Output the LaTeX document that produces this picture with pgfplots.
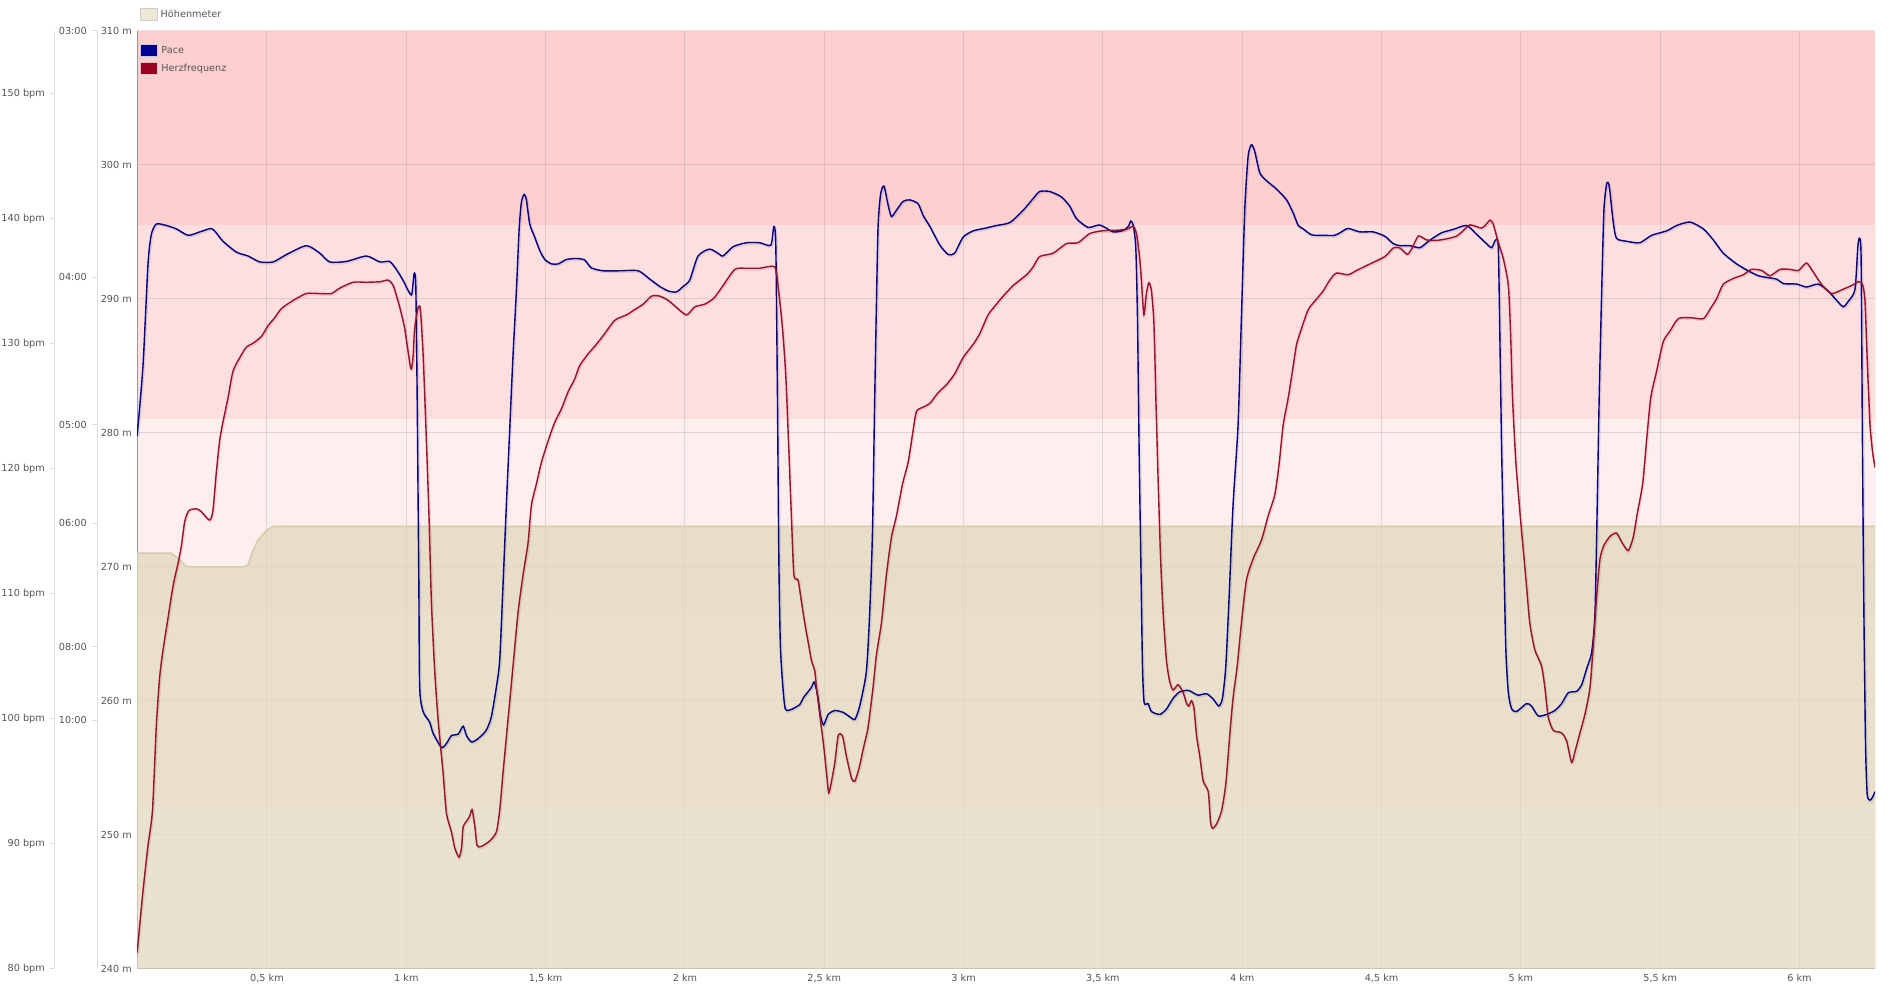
\documentclass[border=0pt]{standalone}
\usepackage{pgfplots}
\usepackage{pgfplotstable}
\pgfplotsset{compat=1.18}
\usepackage{fontspec}
\setmainfont{DejaVu Sans}
\definecolor{paceblue}{HTML}{00008B}
\definecolor{hrred}{HTML}{9E0F2C}
\definecolor{legpace}{HTML}{000090}
\definecolor{leghr}{HTML}{990020}
\definecolor{legelev}{HTML}{E6DDC4}
\definecolor{legbord}{HTML}{CCCCCC}
\definecolor{bandA}{HTML}{FDCFCF}
\definecolor{bandB}{HTML}{FDDFDF}
\definecolor{bandC}{HTML}{FEEEEE}
\definecolor{bandD}{HTML}{FFF6F6}
\definecolor{elev}{HTML}{E0D6B9}
\definecolor{elevedge}{HTML}{D6CAAC}
\definecolor{lbl}{HTML}{555555}
\definecolor{axgray}{HTML}{DDDDDD}
\definecolor{framegray}{HTML}{999999}
\newcommand{\lblfont}{\fontsize{9.7}{11.6}\selectfont}

\pgfplotstableread{
x y
0.034 11.78
0.055 13.20
0.073 15.27
0.085 15.87
0.103 16.08
0.139 16.05
0.175 15.98
0.217 15.85
0.259 15.92
0.300 15.99
0.318 15.90
0.342 15.73
0.390 15.51
0.432 15.43
0.474 15.31
0.522 15.31
0.570 15.46
0.641 15.64
0.689 15.49
0.725 15.31
0.785 15.32
0.857 15.43
0.905 15.31
0.940 15.32
0.964 15.16
0.988 14.94
1.018 14.64
1.028 15.07
1.034 14.83
1.039 12.55
1.045 8.74
1.048 6.67
1.060 6.18
1.084 5.96
1.096 5.74
1.126 5.45
1.144 5.53
1.162 5.69
1.186 5.72
1.204 5.88
1.216 5.69
1.234 5.56
1.258 5.63
1.287 5.80
1.305 6.07
1.323 6.67
1.335 7.21
1.347 8.74
1.359 10.37
1.371 11.89
1.383 13.42
1.395 14.72
1.405 15.98
1.413 16.52
1.423 16.68
1.431 16.57
1.443 16.08
1.461 15.81
1.479 15.54
1.497 15.36
1.521 15.27
1.545 15.27
1.575 15.36
1.610 15.38
1.640 15.35
1.664 15.19
1.706 15.13
1.766 15.13
1.832 15.13
1.874 14.96
1.910 14.81
1.940 14.72
1.969 14.70
1.993 14.81
2.017 14.94
2.047 15.43
2.089 15.57
2.125 15.46
2.137 15.43
2.173 15.62
2.221 15.70
2.268 15.70
2.308 15.65
2.319 16.03
2.326 15.65
2.332 12.55
2.337 9.28
2.343 7.43
2.358 6.29
2.376 6.21
2.412 6.32
2.424 6.45
2.454 6.67
2.464 6.78
2.476 6.51
2.487 6.07
2.498 5.91
2.514 6.12
2.538 6.20
2.568 6.16
2.592 6.07
2.610 6.02
2.627 6.29
2.651 6.99
2.663 8.19
2.673 9.83
2.681 12.55
2.687 14.40
2.693 16.03
2.702 16.68
2.714 16.85
2.729 16.47
2.741 16.23
2.759 16.36
2.783 16.54
2.807 16.57
2.837 16.49
2.855 16.25
2.879 16.03
2.915 15.65
2.945 15.46
2.968 15.49
2.998 15.81
3.034 15.94
3.082 16.00
3.118 16.05
3.166 16.11
3.214 16.36
3.250 16.60
3.273 16.74
3.309 16.74
3.351 16.63
3.381 16.44
3.405 16.19
3.447 16.01
3.489 16.06
3.537 15.92
3.573 15.95
3.591 16.03
3.600 16.14
3.609 16.05
3.618 15.60
3.624 14.18
3.630 11.46
3.636 9.28
3.642 7.10
3.648 6.36
3.662 6.34
3.674 6.18
3.704 6.12
3.728 6.23
3.752 6.45
3.776 6.58
3.806 6.61
3.824 6.56
3.842 6.51
3.872 6.54
3.896 6.43
3.916 6.29
3.929 6.45
3.941 7.10
3.953 8.52
3.967 10.37
3.985 12.00
3.997 14.18
4.009 16.36
4.021 17.45
4.033 17.69
4.045 17.55
4.063 17.12
4.087 16.96
4.123 16.79
4.159 16.57
4.183 16.30
4.201 16.05
4.219 15.98
4.249 15.86
4.291 15.85
4.332 15.85
4.356 15.92
4.380 15.99
4.422 15.92
4.470 15.92
4.512 15.83
4.542 15.68
4.566 15.64
4.602 15.64
4.638 15.60
4.673 15.75
4.715 15.90
4.757 15.97
4.805 16.05
4.841 15.87
4.877 15.68
4.895 15.60
4.910 15.76
4.919 15.60
4.925 13.64
4.931 11.46
4.939 9.28
4.946 7.43
4.955 6.56
4.967 6.23
4.985 6.18
5.020 6.34
5.038 6.29
5.062 6.09
5.092 6.12
5.122 6.20
5.146 6.34
5.170 6.56
5.200 6.59
5.218 6.72
5.236 7.05
5.254 7.38
5.266 8.19
5.274 10.37
5.281 12.55
5.290 14.72
5.298 16.36
5.308 16.90
5.317 16.85
5.331 16.14
5.343 15.79
5.379 15.73
5.427 15.70
5.469 15.85
5.523 15.94
5.559 16.05
5.607 16.12
5.655 15.98
5.690 15.76
5.726 15.49
5.774 15.27
5.822 15.11
5.858 15.02
5.918 14.96
5.942 14.87
5.990 14.86
6.025 14.80
6.067 14.86
6.103 14.72
6.133 14.53
6.157 14.40
6.175 14.51
6.199 14.75
6.209 15.60
6.215 15.79
6.221 15.38
6.226 11.46
6.231 8.19
6.237 5.47
6.243 4.49
6.253 4.38
6.262 4.44
6.271 4.55
}\pacedata

\pgfplotstableread{
x y
0.034 81.31
0.055 86.24
0.073 89.88
0.089 92.67
0.103 99.52
0.115 103.38
0.127 105.52
0.145 108.09
0.163 110.66
0.181 112.46
0.193 113.87
0.205 115.80
0.220 116.66
0.247 116.79
0.264 116.57
0.294 115.89
0.306 116.66
0.318 119.66
0.330 122.23
0.342 123.73
0.360 125.66
0.378 127.80
0.402 128.87
0.426 129.73
0.450 130.03
0.480 130.58
0.504 131.44
0.528 132.08
0.552 132.81
0.594 133.46
0.641 134.01
0.689 134.01
0.731 134.01
0.761 134.44
0.809 134.91
0.857 134.91
0.905 134.95
0.935 135.08
0.953 134.65
0.976 132.94
0.994 131.23
1.016 128.01
1.024 128.87
1.030 131.23
1.042 132.81
1.050 132.81
1.060 129.30
1.070 123.50
1.081 116.50
1.090 109.38
1.102 103.81
1.114 99.95
1.132 95.67
1.144 92.45
1.162 90.95
1.174 89.67
1.189 88.94
1.198 89.67
1.204 91.38
1.216 91.81
1.228 92.24
1.236 92.75
1.246 91.38
1.254 89.88
1.269 89.80
1.299 90.23
1.323 90.95
1.335 92.67
1.347 95.67
1.365 99.95
1.383 104.24
1.401 108.52
1.419 111.52
1.437 114.09
1.449 117.09
1.467 118.80
1.485 120.52
1.509 122.23
1.533 123.73
1.557 124.80
1.581 126.17
1.604 127.16
1.622 128.23
1.652 129.17
1.682 129.94
1.712 130.80
1.748 131.87
1.790 132.30
1.820 132.73
1.850 133.16
1.880 133.80
1.910 133.80
1.940 133.46
1.963 133.03
2.005 132.30
2.035 132.94
2.071 133.16
2.101 133.58
2.113 133.90
2.137 134.65
2.179 135.94
2.221 136.03
2.268 136.03
2.322 136.15
2.334 134.65
2.350 131.23
2.362 127.37
2.373 121.37
2.382 116.23
2.391 111.52
2.406 111.09
2.418 109.38
2.430 107.66
2.442 106.16
2.454 104.66
2.466 103.81
2.474 102.09
2.486 99.95
2.498 97.81
2.508 95.67
2.516 94.08
2.526 95.02
2.538 96.52
2.550 98.66
2.565 98.66
2.580 96.95
2.598 95.24
2.610 95.02
2.625 96.09
2.642 97.81
2.657 99.31
2.675 102.52
2.687 105.09
2.705 107.66
2.723 111.52
2.741 114.52
2.759 116.23
2.781 118.80
2.801 120.52
2.819 123.09
2.831 124.59
2.855 124.93
2.879 125.23
2.909 126.09
2.939 126.73
2.968 127.59
2.998 128.87
3.034 129.94
3.058 130.80
3.088 132.30
3.118 133.16
3.142 133.80
3.178 134.65
3.226 135.51
3.250 136.15
3.273 136.97
3.321 137.23
3.369 138.00
3.411 138.08
3.453 138.81
3.501 139.03
3.549 139.07
3.585 139.15
3.609 139.37
3.621 138.73
3.632 136.80
3.638 135.08
3.647 132.30
3.656 134.01
3.665 134.87
3.674 134.23
3.683 131.66
3.690 125.66
3.698 119.23
3.707 112.80
3.716 108.52
3.728 104.66
3.740 102.95
3.752 102.31
3.770 102.73
3.788 102.09
3.800 101.24
3.808 101.02
3.818 101.45
3.827 100.81
3.836 98.66
3.848 96.95
3.860 95.02
3.878 94.17
3.886 91.81
3.893 91.25
3.908 91.60
3.926 92.67
3.941 94.81
3.955 98.66
3.967 101.66
3.982 104.24
3.997 107.66
4.015 111.09
4.039 112.80
4.069 114.30
4.093 116.23
4.117 117.95
4.133 120.52
4.147 123.52
4.165 125.66
4.183 128.23
4.195 129.94
4.213 131.23
4.237 132.73
4.267 133.58
4.291 134.23
4.314 135.08
4.338 135.64
4.380 135.51
4.410 135.85
4.458 136.37
4.512 136.97
4.542 137.65
4.566 137.65
4.592 137.14
4.608 137.57
4.632 138.60
4.661 138.30
4.697 138.26
4.733 138.38
4.769 138.60
4.793 139.03
4.817 139.50
4.859 139.24
4.877 139.58
4.889 139.88
4.901 139.54
4.919 138.08
4.937 136.80
4.955 134.65
4.963 130.80
4.970 125.66
4.982 120.52
4.996 116.66
5.008 113.66
5.020 110.66
5.032 107.66
5.050 105.52
5.074 104.24
5.086 102.52
5.098 100.16
5.116 99.09
5.146 98.88
5.164 98.24
5.182 96.52
5.194 97.38
5.212 98.88
5.230 100.38
5.248 102.52
5.260 105.95
5.272 109.81
5.284 112.80
5.298 113.87
5.320 114.60
5.343 114.86
5.361 114.17
5.385 113.45
5.403 114.52
5.418 116.45
5.437 118.80
5.451 122.23
5.466 125.66
5.487 127.80
5.511 130.16
5.535 131.01
5.565 132.00
5.607 132.08
5.655 132.00
5.678 132.73
5.702 133.58
5.726 134.74
5.762 135.21
5.798 135.51
5.828 135.94
5.864 135.85
5.894 135.43
5.930 135.94
5.966 135.94
5.996 135.85
6.025 136.45
6.049 135.73
6.079 134.74
6.115 134.01
6.157 134.36
6.187 134.65
6.211 134.95
6.226 134.74
6.235 133.37
6.243 128.66
6.253 123.52
6.262 121.37
6.271 120.09
}\hrdata

\pgfplotsset{
  base/.style={scale only axis, width=1738pt, height=938pt,
    xmin=0.0335, xmax=6.271, at={(137pt,16pt)}, anchor=south west},
  sideaxis/.style={scale only axis, width=10pt, height=938pt,
    xmin=0, xmax=1, axis x line=none, axis y line*=left,
    axis line style={axgray, line width=1pt, -},
    tick align=outside, major tick length=5pt,
    ytick style={axgray, line width=1pt},
    yticklabel style={font=\lblfont, text=lbl, inner sep=0pt, anchor=east, xshift=-5pt}},
  legbox/.style={legend image code/.code={\draw[fill=#1, draw=legbord, line width=1pt] (0pt,-6pt) rectangle (17pt,6pt); \path (18pt,0pt);}},
  shadow/.style={black, opacity=0.10, line width=2.6pt, smooth, tension=0.4, xshift=0.8pt, yshift=-1pt, forget plot},
}
\begin{document}
\begin{tikzpicture}
\path[use as bounding box] (0,0) rectangle (1893pt,985pt);

% heart-rate zone bands (bpm)
\begin{axis}[base, ymin=80, ymax=155, hide axis]
\addplot[fill=bandD, draw=none] coordinates {(0.0335,93) (6.271,93) (6.271,108.5) (0.0335,108.5)} -- cycle;
\addplot[fill=bandC, draw=none] coordinates {(0.0335,108.5) (6.271,108.5) (6.271,124) (0.0335,124)} -- cycle;
\addplot[fill=bandB, draw=none] coordinates {(0.0335,124) (6.271,124) (6.271,139.5) (0.0335,139.5)} -- cycle;
\addplot[fill=bandA, draw=none] coordinates {(0.0335,139.5) (6.271,139.5) (6.271,155) (0.0335,155)} -- cycle;
\end{axis}

% elevation (m)
\begin{axis}[base, ymin=240, ymax=310,
  axis x line*=bottom, axis y line*=left,
  axis line style={framegray, line width=1pt, -},
  ytick={240,250,...,310},
  yticklabels={240 m,250 m,260 m,270 m,280 m,290 m,300 m,310 m},
  xtick={0.5,1,1.5,2,2.5,3,3.5,4,4.5,5,5.5,6},
  xticklabels={{0,5 km},{1 km},{1,5 km},{2 km},{2,5 km},{3 km},{3,5 km},{4 km},{4,5 km},{5 km},{5,5 km},{6 km}},
  major tick length=0pt,
  grid=major, major grid style={black, opacity=0.1, line width=1pt},
  yticklabel style={font=\lblfont, text=lbl, inner sep=0pt, anchor=east, xshift=-5pt},
  xticklabel style={font=\lblfont, text=lbl, inner sep=0pt, anchor=north, yshift=-5pt},
  legend style={at={(0,1)}, anchor=south west, xshift=3pt, yshift=10pt, draw=none, fill=none,
    inner sep=0pt, font=\lblfont, text=lbl},
  legend cell align=left]
\addplot[fill=elev, fill opacity=0.7, draw=none, legbox=legelev] coordinates {
(0.0335,271.04) (0.157,271.04) (0.181,270.63) (0.211,270.04) (0.246,270.0) (0.414,270.0)
(0.432,270.16) (0.450,271.24) (0.468,272.03) (0.498,272.71) (0.522,273.03) (6.271,273.03)
(6.271,240) (0.0335,240)} -- cycle;
\addlegendentry{Höhenmeter}
\addplot[elevedge, line width=1.5pt, forget plot] coordinates {
(0.0335,271.04) (0.157,271.04) (0.181,270.63) (0.211,270.04) (0.246,270.0) (0.414,270.0)
(0.432,270.16) (0.450,271.24) (0.468,272.03) (0.498,272.71) (0.522,273.03) (6.271,273.03)};
\draw[framegray, line width=1pt] (rel axis cs:1,0) -- (rel axis cs:1,1);
\end{axis}

% pace (as speed km/h)
\begin{axis}[base, ymin=0.95, ymax=20, hide axis]
\addplot[shadow] table {\pacedata};
\addplot[paceblue, line width=1.4pt, smooth, tension=0.4] table {\pacedata};
\end{axis}

% heart rate (bpm)
\begin{axis}[base, ymin=80, ymax=155, hide axis,
  legend style={at={(0,1)}, anchor=north west, xshift=3pt, yshift=-13pt, draw=none, fill=none,
    inner sep=0pt, row sep=5pt, font=\lblfont, text=lbl},
  legend cell align=left]
\addplot[shadow] table {\hrdata};
\addlegendimage{legbox=legpace}
\addlegendentry{Pace}
\addplot[hrred, line width=1.4pt, smooth, tension=0.4, legbox=leghr] table {\hrdata};
\addlegendentry{Herzfrequenz}
\end{axis}

% bpm axis (outer left)
\begin{axis}[sideaxis, at={(55pt,16pt)}, anchor=south west, ymin=80, ymax=155,
  ytick={80,90,...,150},
  yticklabels={80 bpm,90 bpm,100 bpm,110 bpm,120 bpm,130 bpm,140 bpm,150 bpm}]
\end{axis}

% pace axis
\begin{axis}[sideaxis, at={(97pt,16pt)}, anchor=south west, ymin=0.95, ymax=20,
  ytick={6,7.5,10,12,15,20},
  yticklabels={10:00,08:00,06:00,05:00,04:00,03:00}]
\end{axis}
\end{tikzpicture}
\end{document}
